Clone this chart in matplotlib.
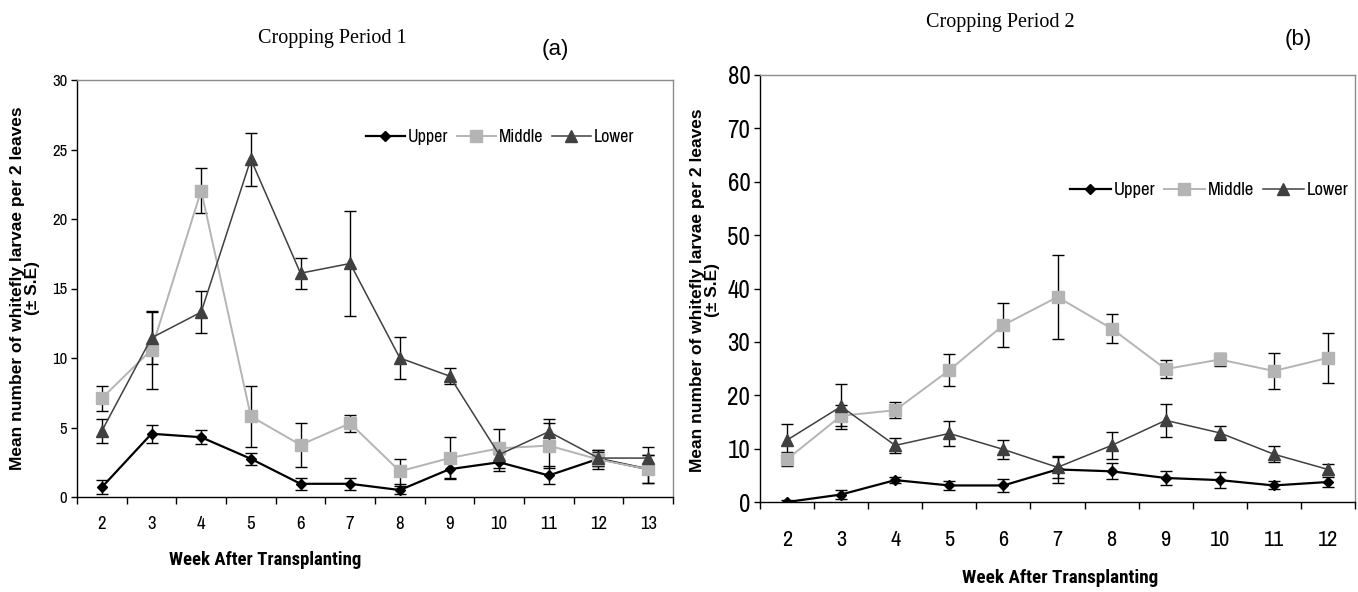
import matplotlib
matplotlib.use("Agg")
import matplotlib.pyplot as plt
from matplotlib import font_manager as fm
import numpy as np

# ---------------- data ----------------
weeks1 = [2, 3, 4, 5, 6, 7, 8, 9, 10, 11, 12, 13]
upper1 = [0.7, 4.55, 4.3, 2.75, 0.95, 0.95, 0.5, 2.0, 2.5, 1.55, 2.75, 2.0]
upper1_se = [0.5, 0.65, 0.5, 0.45, 0.45, 0.42, 0.3, 0.6, 0.6, 0.65, 0.5, 1.0]
middle1 = [7.1, 10.6, 22.05, 5.8, 3.75, 5.3, 1.85, 2.8, 3.5, 3.7, 2.7, 2.0]
middle1_se = [0.9, 2.8, 1.65, 2.2, 1.6, 0.6, 0.9, 1.5, 1.4, 1.6, 0.7, 1.0]
lower1 = [4.75, 11.45, 13.3, 24.3, 16.1, 16.8, 10.0, 8.7, 3.05, 4.7, 2.8, 2.8]
lower1_se = [0.85, 1.85, 1.5, 1.9, 1.1, 3.8, 1.5, 0.6, 0.5, 0.9, 0.6, 0.8]

weeks2 = [2, 3, 4, 5, 6, 7, 8, 9, 10, 11, 12]
upper2 = [0.0, 1.4, 4.1, 3.1, 3.1, 6.1, 5.75, 4.5, 4.1, 3.1, 3.75]
upper2_se = [0.4, 0.9, 0.6, 0.9, 1.25, 2.6, 1.5, 1.3, 1.5, 0.75, 0.9]
middle2 = [8.0, 16.15, 17.2, 24.7, 33.15, 38.4, 32.5, 24.9, 26.7, 24.55, 27.0]
middle2_se = [1.3, 2.0, 1.5, 2.95, 4.2, 7.9, 2.7, 1.65, 1.3, 3.3, 4.75]
lower2 = [11.6, 17.9, 10.6, 12.85, 9.85, 6.5, 10.6, 15.3, 12.95, 8.95, 6.1]
lower2_se = [3.1, 4.3, 1.4, 2.4, 1.8, 2.0, 2.5, 3.1, 1.35, 1.5, 1.1]

series_names = ["Upper", "Middle", "Lower"]

# ---------------- fonts ----------------
avail = {f.name for f in fm.fontManager.ttflist}
narrow = "Archivo Narrow" if "Archivo Narrow" in avail else (
    "Roboto Condensed" if "Roboto Condensed" in avail else "Liberation Sans")
narrow_bold = "Roboto Condensed" if "Roboto Condensed" in avail else narrow
sans = "Liberation Sans"
serif = "Liberation Serif"

W, H = 1358, 592
fig = plt.figure(figsize=(W / 100, H / 100), dpi=100)

colors = ["#000000", "#b4b4b4", "#404040"]
markers = ["D", "s", "^"]
msizes = [5.5, 8, 8]
lws = [1.6, 1.4, 1.1]


def panel(rect, weeks, data, ymax, ystep, ytick_fs, xtick_fs, xpad, leg_anchor, leg_fs):
    ax = fig.add_axes(rect)
    n = len(weeks)
    x = np.arange(1, n + 1)
    handles = []
    for (vals, se), c, m, ms, lw, name in zip(data, colors, markers, msizes, lws, series_names):
        ax.errorbar(x, vals, yerr=se, fmt="none", ecolor="black", elinewidth=1.0,
                    capsize=4, capthick=1.0, zorder=2)
        h, = ax.plot(x, vals, color=c, marker=m, markersize=ms, lw=lw,
                     markeredgecolor=c, label=name, zorder=3)
        handles.append(h)
    ax.set_xlim(0.5, n + 0.5)
    ax.set_ylim(0, ymax)
    ax.set_xticks(np.arange(0.5, n + 1.0, 1.0))
    ax.set_xticklabels([])
    ax.set_xticks(x, minor=True)
    ax.set_xticklabels([str(w) for w in weeks], minor=True, fontfamily=narrow,
                       fontsize=xtick_fs)
    ax.tick_params(axis="x", which="major", direction="out", length=5, width=1, color="black")
    ax.tick_params(axis="x", which="minor", length=0, pad=xpad)
    ax.set_yticks(np.arange(0, ymax + 0.1, ystep))
    ax.tick_params(axis="y", direction="out", length=4, width=1, pad=3)
    for lab in ax.get_yticklabels():
        lab.set_fontfamily(narrow)
        lab.set_fontsize(ytick_fs)
    for s in ["left", "bottom"]:
        ax.spines[s].set_color("black")
        ax.spines[s].set_linewidth(1.0)
    for s in ["top", "right"]:
        ax.spines[s].set_color("#8c8c8c")
        ax.spines[s].set_linewidth(1.0)
    fig.legend(handles=handles, loc="center", bbox_to_anchor=leg_anchor, ncol=3,
               frameon=False, handlelength=2.2, handletextpad=0.15,
               columnspacing=0.45, prop={"family": narrow, "size": leg_fs},
               borderaxespad=0)
    return ax


ax1 = panel([77 / W, (H - 497) / H, 596 / W, 417 / H], weeks1,
            [(upper1, upper1_se), (middle1, middle1_se), (lower1, lower1_se)],
            30, 5, 12, 13.5, 14, (500 / W, 1 - 137 / H), 13)
ax2 = panel([760 / W, (H - 502) / H, 595 / W, 427 / H], weeks2,
            [(upper2, upper2_se), (middle2, middle2_se), (lower2, lower2_se)],
            80, 10, 18, 16, 20, (1209 / W, 1 - 190 / H), 13.5)

fig.text(265 / W, 1 - 560 / H, "Week After Transplanting", ha="center", va="center",
         fontfamily=narrow_bold, fontweight="bold", fontsize=13.5)
fig.text(1060 / W, 1 - 578 / H, "Week After Transplanting", ha="center", va="center",
         fontfamily=narrow_bold, fontweight="bold", fontsize=13.8)

ylab = "Mean number of whitefly larvae per 2 leaves\n(\u00b1 S.E)"
fig.text(25 / W, 1 - 288 / H, ylab, rotation=90, ha="center", va="center",
         fontfamily=sans, fontweight="bold", fontsize=12.5, linespacing=0.95,
         multialignment="center")
fig.text(705 / W, 1 - 290 / H, ylab, rotation=90, ha="center", va="center",
         fontfamily=sans, fontweight="bold", fontsize=12.5, linespacing=0.95,
         multialignment="center")

fig.text(332 / W, 1 - 38 / H, "Cropping Period 1", ha="center", va="center",
         fontfamily=serif, fontsize=14.5)
fig.text(1000 / W, 1 - 22 / H, "Cropping Period 2", ha="center", va="center",
         fontfamily=serif, fontsize=14.5)
fig.text(555 / W, 1 - 50 / H, "(a)", ha="center", va="center", fontfamily=sans, fontsize=16)
fig.text(1298 / W, 1 - 40 / H, "(b)", ha="center", va="center", fontfamily=sans, fontsize=16)

fig.savefig("out.png", dpi=100)
